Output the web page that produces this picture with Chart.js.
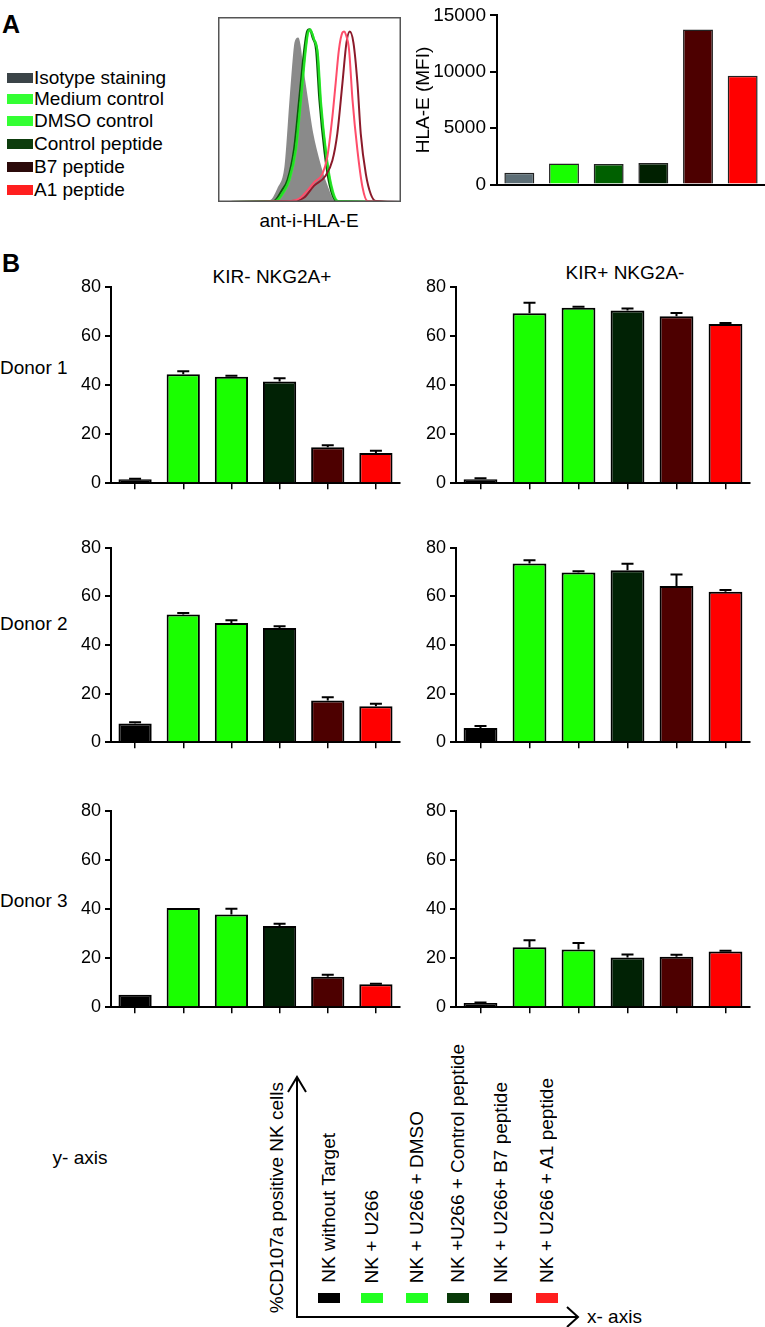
<!DOCTYPE html>
<html>
<head>
<meta charset="utf-8">
<script src="https://cdn.jsdelivr.net/npm/chart.js@4.4.1/dist/chart.umd.min.js"></script>
<style>
  body { margin: 0; background: #fff; }
  #page { position: relative; width: 765px; height: 1327px; overflow: hidden;
          font-family: 'Liberation Sans', Arial, sans-serif; color: #000; }
  canvas { position: absolute; }
  .c { position: absolute; transform: translate(-50%, -50%); white-space: nowrap; font-size: 19px; }
  .l { position: absolute; transform: translateY(-50%); white-space: nowrap; font-size: 19px; }
  .sw { position: absolute; }
  .vt { position: absolute; writing-mode: vertical-rl; transform: rotate(180deg);
        white-space: nowrap; font-size: 19px; line-height: 22px; width: 22px; }
  .big { position: absolute; font-weight: bold; font-size: 25px; transform: translateY(-50%); }
</style>
</head>
<body>
<div id="page">
  <div class="big" style="left:2px;top:24px">A</div>
  <div class="big" style="left:2px;top:263px">B</div>

  <div id="legendA"></div>
  <canvas id="hist" width="183" height="185" style="left:218px;top:17px"></canvas>
  <div class="c" style="left:309px;top:221px">ant-i-HLA-E</div>
  <canvas id="hla" width="357" height="200" style="left:408px;top:0px"></canvas>

  <div class="c" style="left:272px;top:277px">KIR- NKG2A+</div>
  <div class="c" style="left:625px;top:273px">KIR+ NKG2A-</div>
  <div class="l" style="left:0px;top:368px">Donor 1</div>
  <div class="l" style="left:0px;top:624px">Donor 2</div>
  <div class="l" style="left:0px;top:901px">Donor 3</div>

  <canvas id="d1neg" width="372" height="226" style="left:30px;top:272px"></canvas>
  <canvas id="d1pos" width="352" height="226" style="left:400px;top:272px"></canvas>
  <canvas id="d2neg" width="372" height="224" style="left:30px;top:533px"></canvas>
  <canvas id="d2pos" width="352" height="224" style="left:400px;top:533px"></canvas>
  <canvas id="d3neg" width="372" height="226" style="left:30px;top:796px"></canvas>
  <canvas id="d3pos" width="352" height="226" style="left:400px;top:796px"></canvas>

  <div class="c" style="left:80px;top:1158px">y- axis</div>
  <div class="l" style="left:587px;top:1317px">x- axis</div>
  <div class="vt" style="left:266px;bottom:14px">%CD107a positive NK cells</div>
  <div id="legendB"></div>
  <svg width="765" height="1327" style="position:absolute;left:0;top:0;pointer-events:none">
    <g stroke="#000" stroke-width="2" fill="none">
      <line x1="297" y1="1317" x2="297" y2="1077"/>
      <polyline points="288,1092 297,1077 306,1092"/>
      <line x1="296" y1="1317" x2="578" y2="1317"/>
      <polyline points="567,1307 578,1317 567,1327"/>
    </g>
  </svg>
</div>

<script>
// panel A: flow histogram (x = % of log axis width, y = % of max count)
const isotypeHist = [[0,0],[28.6,0.5],[33.2,7.8],[36.8,18.7],[39.6,55],[41,73],[42.3,86],[43.8,88.4],[46,73],[48.7,55],[51.5,37],[56,18.7],[59.7,7.8],[63.4,0.5],[100,0]];
const mediumHist = [[0,0],[31.3,0.5],[35.9,6],[38.6,11.5],[42.3,28],[45.1,55],[47.8,82.5],[49.1,91.6],[50.5,93.4],[52.4,88],[54.2,82.5],[56,55],[58.8,28],[61.5,9.7],[65.2,0.5],[100,0]];
const dmsoHist = [[0,0],[31.8,0.5],[36.4,6],[39.2,12],[42.8,29],[45.6,57],[48.2,84],[49.6,92.5],[51,92],[52.8,87],[54.6,80],[56.4,53],[59.2,26],[62,9],[65.6,0.5],[100,0]];
const controlHist = [[0,0],[30.5,0.5],[35,6.5],[38,12],[41.6,29],[44.5,57],[47.3,84],[48.6,92],[50,93.4],[51.8,88.5],[53.6,82],[55.4,55],[58.2,27],[61,9],[64.6,0.5],[100,0]];
const b7Hist = [[0,0],[40,0.5],[46.9,2.3],[52.4,8.7],[58.8,14.2],[62.5,22.4],[65.2,37],[68,64.3],[70.2,86.2],[72,92.2],[74,86.2],[76.2,64.3],[78,37],[80.8,15.1],[83.5,4.2],[86.3,0.5],[100,0]];
const a1Hist = [[0,0],[40,0.5],[45.1,2.3],[48.7,6],[52.4,10.5],[57,15.1],[59.7,24.2],[62.5,46],[64.3,64.3],[66.1,82.5],[68,91.6],[68.9,92.2],[69.8,90.7],[71.6,82.5],[73.5,55.2],[76.2,27.9],[79,7.8],[81.7,0.5],[100,0]];

// panel A: HLA-E MFI
const hlaLabels = ['Isotype staining', 'Medium control', 'DMSO control', 'Control peptide', 'B7 peptide', 'A1 peptide'];
const hlaMfi = [1060, 1860, 1830, 1910, 13750, 9650];
const hlaTicks = [0, 5000, 10000, 15000];

// panel B: %CD107a+ NK cells (mean, error)
const conditions = ['NK without Target', 'NK + U266', 'NK + U266 + DMSO', 'NK +U266 + Control peptide', 'NK + U266+ B7 peptide', 'NK + U266 + A1 peptide'];
const d1KirNeg = [1.6, 44.4, 43.4, 41.4, 14.6, 12.3];
const d1KirNegErr = [0.2, 1.2, 0.4, 1.3, 0.9, 0.9];
const d1KirPos = [1.6, 69.2, 71.5, 70.3, 68.0, 64.8];
const d1KirPosErr = [0.4, 4.3, 0.4, 0.9, 1.3, 0.5];
const d2KirNeg = [7.7, 52.6, 49.1, 47.0, 17.2, 14.8];
const d2KirNegErr = [0.5, 0.6, 1.1, 0.7, 1.3, 1.0];
const d2KirPos = [5.8, 73.5, 69.8, 70.8, 64.3, 61.9];
const d2KirPosErr = [0.9, 1.4, 0.6, 2.6, 4.7, 0.7];
const d3KirNeg = [5.1, 40.4, 37.8, 33.1, 12.4, 9.3];
const d3KirNegErr = [0, 0, 2.3, 0.9, 0.8, 0.3];
const d3KirPos = [1.7, 24.4, 23.5, 20.2, 20.5, 22.7];
const d3KirPosErr = [0.2, 2.9, 2.6, 1.3, 0.9, 0.3];
const pctTicks = [0, 20, 40, 60, 80];

const FONT = "'Liberation Sans', Arial, sans-serif";
const barColors = ['#000000', '#1aff00', '#1aff00', '#012205', '#4d0000', '#ff0000'];
const hlaColors = ['#5d6e76', '#18ff00', '#006000', '#002000', '#4d0000', '#ff0000'];
const legendAColors = ['#3b4448', '#33ff33', '#33ff33', '#0d3d0d', '#2b0a0a', '#ff1f1f'];
const legendBColors = ['#000000', '#22ff22', '#22ff22', '#093a09', '#1f0000', '#ff1f1f'];

Chart.defaults.animation = false;
Chart.defaults.font.family = FONT;
Chart.defaults.color = '#000';

// legend for panel A
const legendA = document.getElementById('legendA');
const legendARows = [78, 99, 121, 144, 167, 190];
hlaLabels.forEach((name, i) => {
    legendA.insertAdjacentHTML('beforeend',
        `<div class="sw" style="left:7px;top:${legendARows[i] - 5}px;width:26px;height:10px;background:${legendAColors[i]}"></div>` +
        `<div class="l" style="left:34px;top:${legendARows[i]}px">${name}</div>`);
});

// schematic legend for panel B
const legendB = document.getElementById('legendB');
const legendBX = [329, 372, 417, 458, 501, 547];
conditions.forEach((name, i) => {
    legendB.insertAdjacentHTML('beforeend',
        `<div class="sw" style="left:${legendBX[i] - 11}px;top:1293px;width:22px;height:10px;background:${legendBColors[i]}"></div>` +
        `<div class="vt" style="left:${legendBX[i] - 11}px;bottom:44px">${name}</div>`);
});

// draws upward error bars from dataset.errors
const errorBarPlugin = {
    id: 'errorBars',
    afterDatasetsDraw(chart) {
        const ds = chart.data.datasets[0];
        if (!ds.errors) return;
        const meta = chart.getDatasetMeta(0);
        const y = chart.scales.y;
        const ctx = chart.ctx;
        ctx.save();
        ctx.strokeStyle = '#000';
        ctx.lineWidth = 2;
        meta.data.forEach((bar, i) => {
            const err = ds.errors[i];
            if (!err) return;
            const top = y.getPixelForValue(ds.data[i] + err);
            ctx.beginPath();
            ctx.moveTo(bar.x, bar.y);
            ctx.lineTo(bar.x, top);
            ctx.moveTo(bar.x - 6, top);
            ctx.lineTo(bar.x + 6, top);
            ctx.stroke();
        });
        ctx.restore();
    }
};

const framePlugin = {
    id: 'frame',
    afterDraw(chart) {
        const a = chart.chartArea;
        const ctx = chart.ctx;
        ctx.save();
        ctx.strokeStyle = '#555';
        ctx.lineWidth = 1.5;
        ctx.strokeRect(a.left + 0.75, a.top + 0.75, a.right - a.left - 1.5, a.bottom - a.top - 1.5);
        ctx.restore();
    }
};

function histLine(points, color, order, fill) {
    return {
        data: points.map(p => ({ x: p[0], y: p[1] })),
        borderColor: color,
        backgroundColor: fill || 'transparent',
        fill: fill ? 'origin' : false,
        borderWidth: 2,
        pointRadius: 0,
        cubicInterpolationMode: 'monotone',
        order: order
    };
}

new Chart(document.getElementById('hist'), {
    type: 'line',
    data: {
        datasets: [
            histLine(isotypeHist, '#8a8a8a', 10, '#8a8a8a'),
            histLine(controlHist, '#0a5a0a', 5),
            histLine(dmsoHist, '#33ee33', 4),
            histLine(mediumHist, '#22dd22', 3),
            histLine(b7Hist, '#8b1a2a', 2),
            histLine(a1Hist, '#ff4d6a', 1)
        ]
    },
    options: {
        responsive: false,
        layout: { padding: 0 },
        plugins: { legend: { display: false }, tooltip: { enabled: false } },
        scales: {
            x: { type: 'linear', min: 0, max: 100, display: false },
            y: { min: 0, max: 100, display: false }
        }
    },
    plugins: [framePlugin]
});

new Chart(document.getElementById('hla'), {
    type: 'bar',
    data: {
        labels: hlaLabels,
        datasets: [{
            data: hlaMfi,
            backgroundColor: hlaColors,
            borderColor: '#222',
            borderWidth: 1.5,
            barPercentage: 0.67,
            categoryPercentage: 1
        }]
    },
    options: {
        responsive: false,
        layout: { padding: { top: 9 } },
        plugins: { legend: { display: false }, tooltip: { enabled: false } },
        scales: {
            x: {
                grid: { display: false },
                border: { color: '#000', width: 2 },
                ticks: { display: false },
                afterFit: s => { s.height = 3; }
            },
            y: {
                min: 0, max: 15000,
                afterBuildTicks: s => { s.ticks = hlaTicks.map(v => ({ value: v })); },
                ticks: { font: { size: 19 }, padding: 4, callback: v => String(v) },
                grid: { drawOnChartArea: false, tickLength: 7, color: '#000', lineWidth: 2 },
                border: { color: '#000', width: 2 },
                title: { display: true, text: 'HLA-E (MFI)', font: { size: 19 }, padding: { top: 4, bottom: 0 } },
                afterFit: s => { s.width = 89; }
            }
        }
    }
});

function donorChart(id, values, errors, yWidth) {
    new Chart(document.getElementById(id), {
        type: 'bar',
        data: {
            labels: conditions,
            datasets: [{
                data: values,
                errors: errors,
                backgroundColor: barColors,
                borderColor: '#000',
                borderWidth: 2,
                barPercentage: 0.69,
                categoryPercentage: 1
            }]
        },
        options: {
            responsive: false,
            layout: { padding: { top: 12, right: 2 } },
            plugins: { legend: { display: false }, tooltip: { enabled: false } },
            scales: {
                x: {
                    grid: { offset: false, drawOnChartArea: false, tickLength: 6, color: '#000', lineWidth: 1.5 },
                    border: { color: '#000', width: 2 },
                    ticks: { callback: () => '' },
                    afterFit: s => { s.height = 10; }
                },
                y: {
                    min: 0, max: 80,
                    afterBuildTicks: s => { s.ticks = pctTicks.map(v => ({ value: v })); },
                    ticks: { font: { size: 18 }, padding: 4 },
                    grid: { drawOnChartArea: false, tickLength: 6, color: '#000', lineWidth: 2 },
                    border: { color: '#000', width: 2 },
                    afterFit: s => { s.width = yWidth; }
                }
            }
        },
        plugins: [errorBarPlugin]
    });
}

donorChart('d1neg', d1KirNeg, d1KirNegErr, 81);
donorChart('d1pos', d1KirPos, d1KirPosErr, 56);
donorChart('d2neg', d2KirNeg, d2KirNegErr, 81);
donorChart('d2pos', d2KirPos, d2KirPosErr, 56);
donorChart('d3neg', d3KirNeg, d3KirNegErr, 81);
donorChart('d3pos', d3KirPos, d3KirPosErr, 56);
</script>
</body>
</html>
